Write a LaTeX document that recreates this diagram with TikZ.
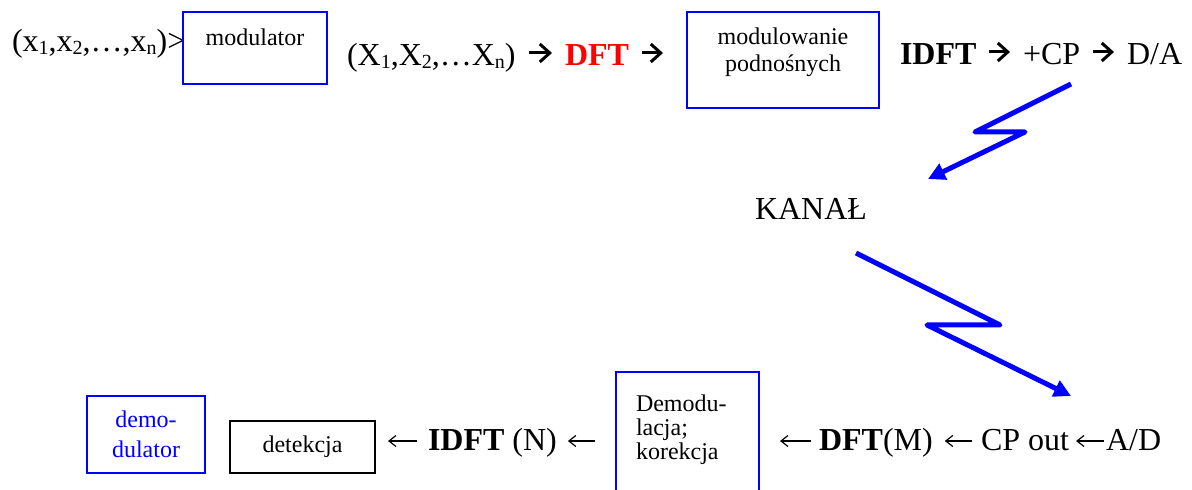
\documentclass[tikz,border=0pt]{standalone}
\usepackage{fontspec}
\setmainfont{Liberation Serif}
\newfontfamily\boxfont{Liberation Serif}
\usepackage{tikz}
\usetikzlibrary{arrows.meta}

% lowered index as in (x_1,...)
\newcommand{\lo}[1]{\raisebox{-1.5pt}{\fontsize{10}{10}\selectfont#1}}

\begin{document}
\begin{tikzpicture}[x=0.5pt,y=-0.5pt,
    big/.style={inner sep=0pt,outer sep=0pt,anchor=base west,font=\rmfamily\fontsize{16}{19}\selectfont,text height=13pt,text depth=0pt},
    low/.style={big,text height=10pt},
    box/.style={draw,line width=0.75pt,inner sep=0pt,outer sep=0pt,anchor=north west,font=\boxfont\fontsize{12}{13.5}\selectfont,align=center},
    blue box/.style={box,draw=blue},
    fwd/.style={line width=1.5pt,-{Straight Barb[length=5pt,width=9pt]},shorten <=6.5pt,shorten >=6.5pt},
    back/.style={line width=0.6pt,-{Straight Barb[length=3.5pt,width=5.5pt]},shorten <=5pt,shorten >=6pt},
    bolt/.style={blue,line width=2.5pt,line join=round,-{Triangle[length=8.5pt,width=8.5pt]}}]
\useasboundingbox (0,0) rectangle (1192,490);

% Transmitter line
\node[big] (xin) at (12,52) {(x\lo{1},x\lo{2},\ldots,x\lo{n})>};
\node[blue box,minimum width=72pt] (mod) at (183,12) {\rule[-19pt]{0pt}{36pt}modulator};
\node[big] (xout) at (347,66) {(X\lo{1},X\lo{2},\ldots X\lo{n})};
\node[big,text=red] (dft) at (565,66) {\textbf{DFT}};
\node[blue box,minimum width=96pt] (sub) at (687,12) {\rule{0pt}{16.5pt}modulowanie\\podnośnych\rule[-18pt]{0pt}{18pt}};
\node[big] (idft) at (900,65) {\textbf{IDFT}};
\node[big] (cp) at (1023,65) {+CP};
\node[big] (da) at (1127,65) {D/A};

\draw[fwd] (xout) -- (dft);
\draw[fwd,shorten >=12pt] (dft.east) -- (dft.east -| sub.west);
\draw[fwd] (idft) -- (cp);
\draw[fwd] (cp) -- (da);

% Channel and the two radio links
\node[big] (kanal) at (755,220) {KANAŁ};
\coordinate (tx) at (1071,84);
\coordinate (chin) at (928,179);
\coordinate (chout) at (856,253);
\coordinate (rx) at (1071,396);
\draw[bolt] (tx) -- ++(-96,48) -- ++(50,0) -- (chin);
\draw[bolt] (chout) -- ++(144,72) -- ++(-73,0) -- (rx);

% Receiver line, read from right to left
\node[blue box,text=blue,minimum width=59pt,minimum height=38.5pt,font=\boxfont\fontsize{12}{15}\selectfont] (demod) at (87,396) {demo-\\dulator};
\node[box,minimum width=72.5pt,minimum height=26pt] (det) at (230,421) {detekcja};
\node[low] (idftb) at (428,451) {\textbf{IDFT} (N)};
\node[blue box,text width=51.5pt,inner xsep=10pt,align=left,font=\boxfont\fontsize{12}{12}\selectfont] (corr) at (616,372) {\rule{0pt}{20pt}Demodu-\\lacja;\\korekcja\rule[-30pt]{0pt}{30pt}};
\node[low] (dftm) at (819,451) {\textbf{DFT}(M)};
\node[low] (cpout) at (981,451) {CP out};
\node[low] (ad) at (1106,451) {A/D};

\draw[back,shorten <=5.5pt,shorten >=6.5pt] (idftb.west) -- (idftb.west -| det.east);
\draw[back,shorten <=10.5pt,shorten >=5.5pt] (idftb.east -| corr.west) -- (idftb.east);
\draw[back,shorten <=4pt,shorten >=10.5pt] (dftm.west) -- (dftm.west -| corr.east);
\draw[back,shorten <=4.5pt] (cpout) -- (dftm);
\draw[back,shorten <=1pt,shorten >=3.5pt] (ad) -- (cpout);
\end{tikzpicture}
\end{document}
